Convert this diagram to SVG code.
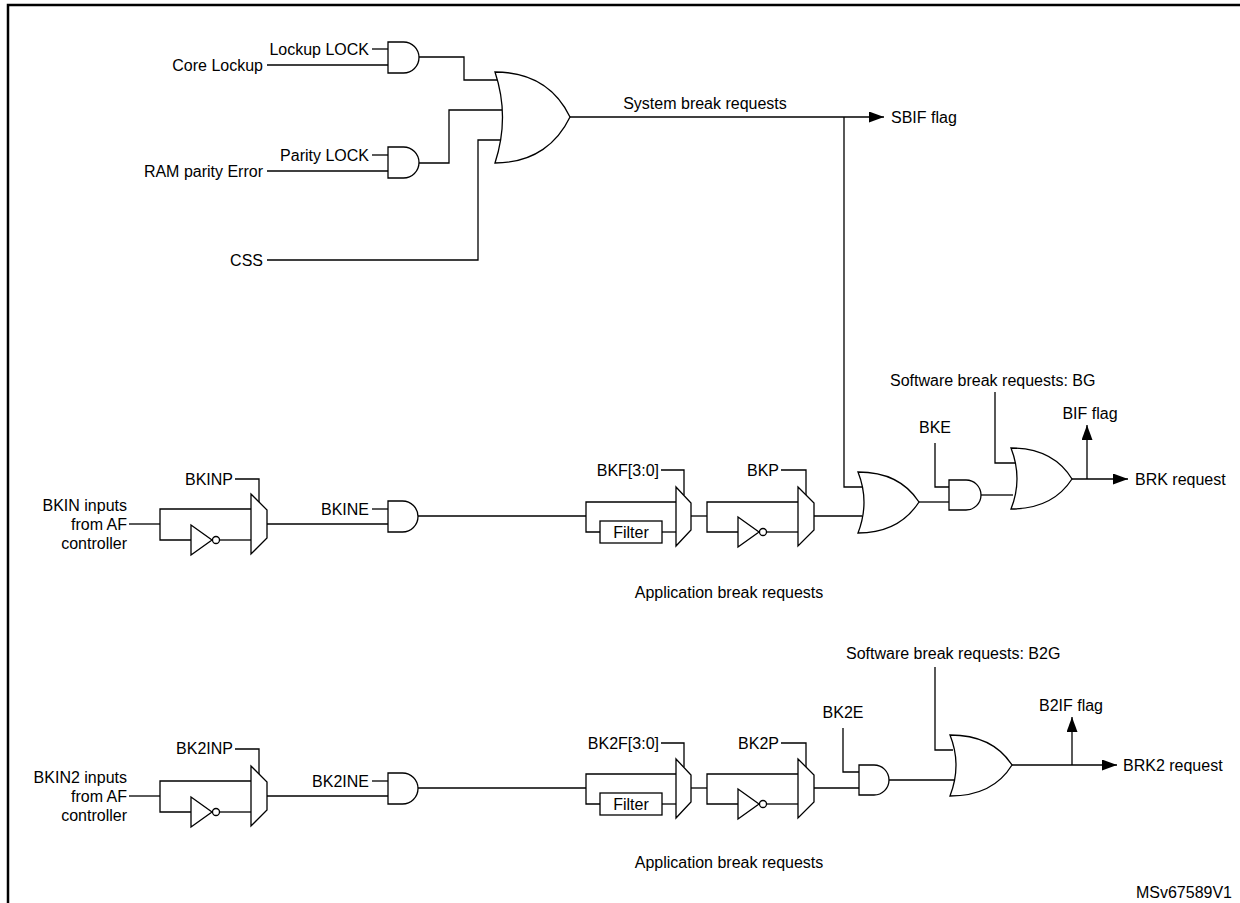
<svg xmlns="http://www.w3.org/2000/svg" width="1240" height="903" viewBox="0 0 1240 903">
<style>
.w{fill:none;stroke:#000;stroke-width:1.3}
.g{fill:#fff;stroke:#000;stroke-width:1.3}
text{font-family:"Liberation Sans",Arial,sans-serif;font-size:16px;fill:#000}
.r{text-anchor:end}.m{text-anchor:middle}
</style>
<defs>
<marker id="ah" viewBox="0 0 15 11" refX="15" refY="5.5" markerWidth="15" markerHeight="11" markerUnits="userSpaceOnUse" orient="auto"><path d="M0,0 L15,5.5 L0,11 Z" fill="#000"/></marker>
</defs>
<rect x="8" y="5" width="1240" height="910" fill="#fff" stroke="#000" stroke-width="2.5"/>
<g id="connectors" class="w">
<line x1="372" y1="49" x2="388" y2="49"/>
<line x1="267" y1="65" x2="388" y2="65"/>
<line x1="372" y1="155" x2="388" y2="155"/>
<line x1="267" y1="171" x2="388" y2="171"/>
<polyline points="419,57 464,57 464,80 498,80"/>
<polyline points="419,163 449,163 449,110 502,110"/>
<polyline points="267,260 478,260 478,140 501,140"/>
<line x1="570" y1="117" x2="884" y2="117" marker-end="url(#ah)"/>
<polyline points="844,117 844,487 862,487"/>
<line x1="129" y1="524" x2="160" y2="524"/>
<polyline points="251,509 160,509 160,540 191,540"/>
<line x1="220" y1="540" x2="251" y2="540"/>
<polyline points="235,479 259,479 259,502"/>
<line x1="267" y1="524" x2="388" y2="524"/>
<line x1="372" y1="509" x2="388" y2="509"/>
<line x1="418" y1="516" x2="586" y2="516"/>
<polyline points="676,502 586,502 586,532 600,532"/>
<line x1="662" y1="532" x2="676" y2="532"/>
<polyline points="661,470 684,470 684,495"/>
<line x1="691" y1="516" x2="707" y2="516"/>
<polyline points="798,502 707,502 707,532 738,532"/>
<line x1="767" y1="532" x2="798" y2="532"/>
<polyline points="781,470 806,470 806,495"/>
<line x1="814" y1="516" x2="862" y2="516"/>
<line x1="919" y1="502" x2="949" y2="502"/>
<polyline points="935,443 935,487 949,487"/>
<line x1="981" y1="495" x2="1013" y2="495"/>
<polyline points="995,392 995,463 1015,463"/>
<line x1="1072" y1="479" x2="1128" y2="479" marker-end="url(#ah)"/>
<line x1="1087" y1="479" x2="1087" y2="425" marker-end="url(#ah)"/>
<g transform="translate(0,272)">
<line x1="129" y1="524" x2="160" y2="524"/>
<polyline points="251,509 160,509 160,540 191,540"/>
<line x1="220" y1="540" x2="251" y2="540"/>
<polyline points="235,477 259,477 259,502"/>
<line x1="267" y1="524" x2="388" y2="524"/>
<line x1="372" y1="509" x2="388" y2="509"/>
<line x1="418" y1="516" x2="586" y2="516"/>
<polyline points="676,502 586,502 586,532 600,532"/>
<line x1="662" y1="532" x2="676" y2="532"/>
<polyline points="661,471 684,471 684,495"/>
<line x1="691" y1="516" x2="707" y2="516"/>
<polyline points="798,502 707,502 707,532 738,532"/>
<line x1="767" y1="532" x2="798" y2="532"/>
<polyline points="781,471 806,471 806,495"/>
</g>
<line x1="814" y1="788" x2="859" y2="788"/>
<polyline points="843,728 843,772 859,772"/>
<line x1="889" y1="780" x2="954" y2="780"/>
<polyline points="935,667 935,750 953,750"/>
<line x1="1012" y1="765" x2="1117" y2="765" marker-end="url(#ah)"/>
<line x1="1072" y1="765" x2="1072" y2="717" marker-end="url(#ah)"/>
</g>
<g id="and1"><path class="g" d="M388,42 H403.5 A15.5,15.5 0 0 1 403.5,73 H388 Z"/></g>
<g id="and2"><path class="g" d="M388,147 H403.5 A15.5,15.5 0 0 1 403.5,178 H388 Z"/></g>
<g id="or1"><path class="g" d="M495,72 C535,72 558,92 570,117 C558,142 535,163 495,163 Q510,117 495,72 Z"/></g>
<g id="mux1"><path class="g" d="M251,494 L267,510 L267,538 L251,554 Z"/></g>
<g id="inv1"><path class="g" d="M191,525 L212,540 L191,555 Z"/><circle class="g" cx="216" cy="540" r="3.5"/></g>
<g id="and_bkine"><path class="g" d="M388,501 H402.5 A15.5,15.5 0 0 1 402.5,532 H388 Z"/></g>
<g id="filter1"><rect class="g" x="600" y="521" width="62" height="22"/><text x="631" y="538" class="m">Filter</text></g>
<g id="mux2"><path class="g" d="M676,487 L691,503 L691,530 L676,546 Z"/></g>
<g id="inv2"><path class="g" d="M738,517 L759,532 L738,547 Z"/><circle class="g" cx="763" cy="532" r="3.5"/></g>
<g id="mux3"><path class="g" d="M798,487 L814,503 L814,530 L798,546 Z"/></g>
<g id="or3"><path class="g" d="M858,472 C890,472 908,485 919,502 C908,519 890,533 858,533 Q870,502 858,472 Z"/></g>
<g id="and3"><path class="g" d="M949,480 H966 A15,15 0 0 1 966,510 H949 Z"/></g>
<g id="or4"><path class="g" d="M1011,448 C1043,448 1061,461 1072,479 C1061,496 1043,509 1011,509 Q1023,479 1011,448 Z"/></g>
<g transform="translate(0,272)">
<g id="mux1b"><path class="g" d="M251,494 L267,510 L267,538 L251,554 Z"/></g>
<g id="inv1b"><path class="g" d="M191,525 L212,540 L191,555 Z"/><circle class="g" cx="216" cy="540" r="3.5"/></g>
<g id="and_bk2ine"><path class="g" d="M388,501 H402.5 A15.5,15.5 0 0 1 402.5,532 H388 Z"/></g>
<g id="filter2"><rect class="g" x="600" y="521" width="62" height="22"/><text x="631" y="538" class="m">Filter</text></g>
<g id="mux2b"><path class="g" d="M676,487 L691,503 L691,530 L676,546 Z"/></g>
<g id="inv2b"><path class="g" d="M738,517 L759,532 L738,547 Z"/><circle class="g" cx="763" cy="532" r="3.5"/></g>
<g id="mux3b"><path class="g" d="M798,487 L814,503 L814,530 L798,546 Z"/></g>
</g>
<g id="and_bk2e"><path class="g" d="M859,765 H874 A15,15 0 0 1 874,795 H859 Z"/></g>
<g id="or_b2"><path class="g" d="M950,735 C983,735 1001,748 1012,765 C1001,783 983,796 950,796 Q962,765 950,735 Z"/></g>
<g id="labels">
<text x="369" y="55" class="r">Lockup LOCK</text>
<text x="263" y="71" class="r">Core Lockup</text>
<text x="369" y="161" class="r">Parity LOCK</text>
<text x="263" y="177" class="r">RAM parity Error</text>
<text x="263" y="266" class="r">CSS</text>
<text x="705" y="109" class="m">System break requests</text>
<text x="891" y="123">SBIF flag</text>
<text x="127" y="511" class="r">BKIN inputs</text>
<text x="127" y="530" class="r">from AF</text>
<text x="127" y="549" class="r">controller</text>
<text x="233" y="485" class="r">BKINP</text>
<text x="369" y="515" class="r">BKINE</text>
<text x="659" y="476" class="r">BKF[3:0]</text>
<text x="779" y="476" class="r">BKP</text>
<text x="935" y="433" class="m">BKE</text>
<text x="890" y="386">Software break requests: BG</text>
<text x="1090" y="419" class="m">BIF flag</text>
<text x="1135" y="485">BRK request</text>
<text x="729" y="598" class="m">Application break requests</text>
<text x="127" y="783" class="r">BKIN2 inputs</text>
<text x="127" y="802" class="r">from AF</text>
<text x="127" y="821" class="r">controller</text>
<text x="233" y="754" class="r">BK2INP</text>
<text x="369" y="787" class="r">BK2INE</text>
<text x="659" y="749" class="r">BK2F[3:0]</text>
<text x="779" y="749" class="r">BK2P</text>
<text x="843" y="718" class="m">BK2E</text>
<text x="846" y="659">Software break requests: B2G</text>
<text x="1071" y="711" class="m">B2IF flag</text>
<text x="1123" y="771">BRK2 request</text>
<text x="729" y="868" class="m">Application break requests</text>
<text x="1232" y="898" class="r">MSv67589V1</text>
</g>
</svg>
